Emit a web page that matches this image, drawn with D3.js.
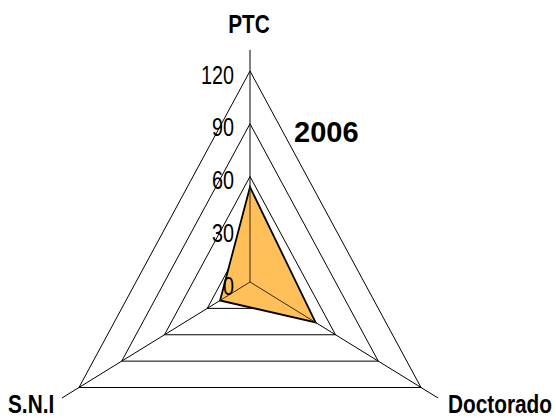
<!DOCTYPE html>
<html><head><meta charset="utf-8">
<script src="https://cdn.jsdelivr.net/npm/d3@7"></script>
<style>
html,body{margin:0;padding:0;background:#fff;}
svg{display:block;}
text{font-family:"Liberation Sans",Arial,sans-serif;}
</style></head>
<body>
<svg id="chart" width="556" height="420"></svg>
<script>
const axesNames = ["PTC", "Doctorado", "S.N.I"];
const values2006 = [54, 46, 21];
const ringTicks = [30, 60, 90, 120];
const tickLabels = ["0", "30", "60", "90", "120"];
const tickValues = [0, 30, 60, 90, 120];
const title = "2006";

const svg = d3.select("#chart");
const cx = 250, cy = 282, sx = 0.936;
const r = d3.scaleLinear().domain([0, 120]).range([0, 211]);
const ang = d3.scaleOrdinal().domain(axesNames).range([0, 2*Math.PI/3, 4*Math.PI/3]);
const pt = (name, v) => {
  const a = ang(name);
  return [cx + r(v)*Math.sin(a)*sx, cy - r(v)*Math.cos(a)];
};
function narrowText(x, y, str, anchor, bold, k) {
  return svg.append("text")
    .attr("transform", `translate(${x},${y}) scale(${k},1)`)
    .attr("text-anchor", anchor)
    .attr("font-weight", bold ? "bold" : "normal")
    .attr("font-size", 26).attr("fill", "#000").text(str);
}

// rings
ringTicks.forEach(t => {
  svg.append("path")
    .attr("d", d3.line()(axesNames.map(n => pt(n, t))) + "Z")
    .attr("fill", "none").attr("stroke", "#000").attr("stroke-width", 1);
});
// axes
axesNames.forEach(n => {
  const p = pt(n, 132);
  svg.append("line").attr("x1", cx).attr("y1", cy).attr("x2", p[0]).attr("y2", p[1])
    .attr("stroke", "#000").attr("stroke-width", 1);
});
// data polygon
svg.append("path")
  .attr("d", d3.line()(axesNames.map((n, i) => pt(n, values2006[i]))) + "Z")
  .attr("fill", "#FFC05A").attr("stroke", "#000").attr("stroke-width", 1.8)
  .attr("stroke-linejoin", "miter");
// axis re-drawn inside polygon
axesNames.forEach((n, i) => {
  const p = pt(n, values2006[i]);
  svg.append("line").attr("x1", cx).attr("y1", cy).attr("x2", p[0]).attr("y2", p[1])
    .attr("stroke", "#3a2a10").attr("stroke-width", 1);
});
// tick labels
tickValues.forEach((t, i) => narrowText(234, cy - r(t) + 12.5, tickLabels[i], "end", false, 0.76));
// axis labels
narrowText(249, 33, axesNames[0], "middle", true, 0.8);
narrowText(552, 413, axesNames[1], "end", true, 0.8);
narrowText(8, 413, axesNames[2], "start", true, 0.8);
// title
svg.append("text").attr("x", 294).attr("y", 142)
  .attr("font-weight", "bold").attr("font-size", 29).text(title);
</script>
</body></html>
